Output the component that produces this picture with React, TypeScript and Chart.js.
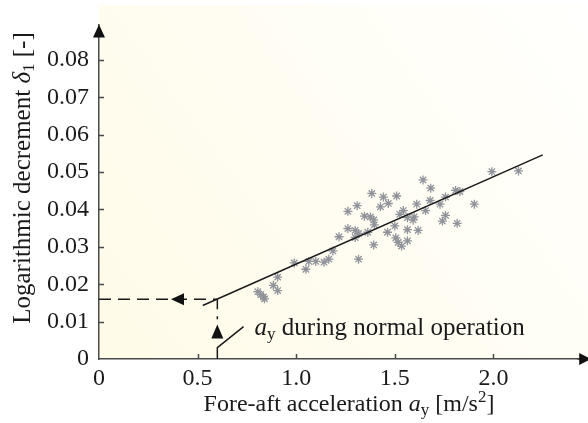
import React, { useEffect, useRef } from 'react';
import { Chart, registerables } from 'chart.js';

Chart.register(...registerables);

// Measured fore-aft acceleration a_y [m/s^2] and logarithmic decrement delta_1 [-]
const accel = [
  1.992, 2.127, 1.643, 1.682, 1.808, 1.830, 1.903, 1.757, 1.679, 1.729,
  1.611, 1.656, 1.757, 1.741, 1.816, 1.383, 1.442, 1.509, 1.467, 1.427,
  1.309, 1.262, 1.346, 1.376, 1.393, 1.396, 1.543, 1.525, 1.564, 1.598,
  1.593, 1.500, 1.463, 1.564, 1.618, 1.262, 1.299, 1.316, 1.363, 1.299,
  1.217, 1.505, 1.517, 1.534, 1.564, 1.393, 1.186, 1.165, 1.141, 1.099,
  1.064, 1.316, 0.990, 1.049, 0.906, 0.884, 0.906, 0.805, 0.834, 0.839,
  0.820,
];
const decrement = [
  0.0501, 0.0503, 0.0479, 0.0457, 0.0451, 0.0448, 0.0414, 0.0433, 0.0424, 0.0414,
  0.0414, 0.0397, 0.0384, 0.0369, 0.0363, 0.0443, 0.0433, 0.0436, 0.0416, 0.0407,
  0.0410, 0.0395, 0.0382, 0.0380, 0.0372, 0.0359, 0.0397, 0.0387, 0.0378, 0.0380,
  0.0372, 0.0356, 0.0339, 0.0346, 0.0344, 0.0349, 0.0344, 0.0336, 0.0339, 0.0325,
  0.0327, 0.0324, 0.0312, 0.0302, 0.0316, 0.0305, 0.0289, 0.0267, 0.0259, 0.0261,
  0.0261, 0.0267, 0.0257, 0.0240, 0.0219, 0.0197, 0.0183, 0.0180, 0.0166, 0.0161,
  0.0172,
];

// Linear fit
const fitAccel = [0.526, 2.25];
const fitDecrement = [0.0143, 0.0546];

// Normal operation read-off
const normalAccel = 0.6;
const normalDecrement = 0.016;
const dashedDownTo = 0.0106;
const leftArrowTipAccel = 0.365;
const upArrowTipDecrement = 0.0092;
const leaderAccel = [0.6, 0.6, 0.733];
const leaderDecrement = [0, 0.00306, 0.00867];

// Axes
const xMin = 0;
const xMax = 2.45;
const yMin = 0;
const yMax = 0.0895;
const xTicks = [0, 0.5, 1.0, 1.5, 2.0];
const xTickLabels = ['0', '0.5', '1.0', '1.5', '2.0'];
const yTicks = [0, 0.01, 0.02, 0.03, 0.04, 0.05, 0.06, 0.07, 0.08];
const yTickLabels = ['0', '0.01', '0.02', '0.03', '0.04', '0.05', '0.06', '0.07', '0.08'];

const annotationText = ' during normal operation';
const xTitleMain = 'Fore-aft acceleration ';
const yTitleMain = 'Logarithmic decrement ';

const SERIF = '"Liberation Serif", "DejaVu Serif", serif';
const INK = '#1a1a1a';
const AXIS = '#4a4a4a';
const FS = 24;
const FS_Y = 25;
const FS_NOTE = 25;
const SUB = 17;

type Part = { text: string; font: string; dy?: number };

function drawParts(ctx: CanvasRenderingContext2D, parts: Part[], x: number, y: number, align: 'left' | 'center') {
  let total = 0;
  const widths = parts.map((p) => {
    ctx.font = p.font;
    const w = ctx.measureText(p.text).width;
    total += w;
    return w;
  });
  let cx = align === 'center' ? x - total / 2 : x;
  ctx.textAlign = 'left';
  ctx.textBaseline = 'alphabetic';
  parts.forEach((p, i) => {
    ctx.font = p.font;
    ctx.fillText(p.text, cx, y + (p.dy || 0));
    cx += widths[i];
  });
}

function triangle(ctx: CanvasRenderingContext2D, pts: number[][]) {
  ctx.beginPath();
  ctx.moveTo(pts[0][0], pts[0][1]);
  ctx.lineTo(pts[1][0], pts[1][1]);
  ctx.lineTo(pts[2][0], pts[2][1]);
  ctx.closePath();
  ctx.fill();
}

const decorPlugin = {
  id: 'decor',
  beforeDraw(chart: any) {
    const { ctx, chartArea } = chart;
    const g = ctx.createLinearGradient(chartArea.left, chartArea.bottom, chart.width, 0);
    g.addColorStop(0, '#fffbe8');
    g.addColorStop(1, '#fffffd');
    ctx.save();
    ctx.fillStyle = g;
    ctx.fillRect(chartArea.left, 5, chart.width - chartArea.left, chartArea.bottom - 5);
    ctx.restore();
  },
  afterDraw(chart: any) {
    const { ctx, chartArea } = chart;
    const xs = chart.scales.x;
    const ys = chart.scales.y;
    ctx.save();
    // inward tick marks
    ctx.strokeStyle = AXIS;
    ctx.lineWidth = 1.5;
    ctx.beginPath();
    xTicks.forEach((v) => {
      if (v === 0) return;
      const px = Math.round(xs.getPixelForValue(v)) + 0.5;
      ctx.moveTo(px, chartArea.bottom);
      ctx.lineTo(px, chartArea.bottom - 5);
    });
    yTicks.forEach((v) => {
      if (v === 0) return;
      const py = Math.round(ys.getPixelForValue(v)) + 0.5;
      ctx.moveTo(chartArea.left, py);
      ctx.lineTo(chartArea.left + 5, py);
    });
    ctx.stroke();

    // axis arrowheads
    ctx.fillStyle = '#111';
    const top = chartArea.top;
    const left = chartArea.left;
    triangle(ctx, [[left, top], [left - 6, top + 13], [left + 6, top + 13]]);
    const bottom = chartArea.bottom;
    const r = chartArea.right;
    ctx.strokeStyle = AXIS;
    ctx.beginPath();
    ctx.moveTo(r - 5, bottom);
    ctx.lineTo(chart.width, bottom);
    ctx.stroke();
    triangle(ctx, [[r + 9, bottom], [r - 3, bottom - 6], [r - 3, bottom + 6]]);

    // read-off arrowheads
    const lx = xs.getPixelForValue(leftArrowTipAccel);
    const ly = ys.getPixelForValue(normalDecrement);
    triangle(ctx, [[lx, ly], [lx + 13, ly - 6], [lx + 13, ly + 6]]);
    const ux = xs.getPixelForValue(normalAccel);
    const uy = ys.getPixelForValue(upArrowTipDecrement);
    triangle(ctx, [[ux, uy], [ux - 6, uy + 14], [ux + 6, uy + 14]]);

    // annotation text
    ctx.fillStyle = INK;
    const ax = xs.getPixelForValue(leaderAccel[2]) + 11;
    const ay = ys.getPixelForValue(leaderDecrement[2]) + 8;
    drawParts(ctx, [
      { text: 'a', font: `italic ${FS_NOTE}px ${SERIF}` },
      { text: 'y', font: `${SUB}px ${SERIF}`, dy: 4 },
      { text: annotationText, font: `${FS_NOTE}px ${SERIF}` },
    ], ax, ay, 'left');

    // x title
    drawParts(ctx, [
      { text: xTitleMain, font: `${FS}px ${SERIF}` },
      { text: 'a', font: `italic ${FS}px ${SERIF}` },
      { text: 'y', font: `${SUB}px ${SERIF}`, dy: 4 },
      { text: ' [m/s', font: `${FS}px ${SERIF}` },
      { text: '2', font: `${SUB}px ${SERIF}`, dy: -9 },
      { text: ']', font: `${FS}px ${SERIF}` },
    ], 349, 411, 'center');

    // y title
    ctx.translate(30, 178);
    ctx.rotate(-Math.PI / 2);
    drawParts(ctx, [
      { text: yTitleMain, font: `${FS_Y}px ${SERIF}` },
      { text: 'δ', font: `italic ${FS_Y}px ${SERIF}` },
      { text: '1', font: `${SUB}px ${SERIF}`, dy: 4 },
      { text: ' [-]', font: `${FS_Y}px ${SERIF}` },
    ], 0, 0, 'center');
    ctx.restore();
  },
};

export default function App() {
  const ref = useRef<HTMLCanvasElement>(null);
  useEffect(() => {
    if (!ref.current) return;
    const points = accel.map((x, i) => ({ x, y: decrement[i] }));
    const fit = fitAccel.map((x, i) => ({ x, y: fitDecrement[i] }));
    const hDash = [{ x: xMin, y: normalDecrement }, { x: normalAccel, y: normalDecrement }];
    const vDash = [{ x: normalAccel, y: normalDecrement }, { x: normalAccel, y: dashedDownTo }];
    const leader = leaderAccel.map((x, i) => ({ x, y: leaderDecrement[i] }));
    const lineDs = (data: any[], dash: number[]) => ({
      type: 'line' as const,
      data,
      showLine: true,
      borderColor: INK,
      borderWidth: 1.5,
      borderDash: dash,
      pointRadius: 0,
      fill: false,
    });
    const chart = new Chart(ref.current, {
      type: 'scatter',
      data: {
        datasets: [
          lineDs(fit, []),
          lineDs(hDash, [12, 7]),
          lineDs(vDash, [10, 7]),
          lineDs(leader, []),
          {
            type: 'scatter',
            data: points,
            pointStyle: 'star',
            pointRadius: 4.5,
            pointBorderWidth: 1.3,
            borderColor: '#90939a',
            backgroundColor: '#90939a',
          } as any,
        ],
      },
      options: {
        animation: false,
        responsive: false,
        devicePixelRatio: 1,
        layout: { padding: { top: 8, right: 2, left: 0, bottom: 0 } },
        plugins: { legend: { display: false }, tooltip: { enabled: false } },
        scales: {
          x: {
            type: 'linear',
            min: xMin,
            max: xMax,
            afterBuildTicks: (s: any) => { s.ticks = xTicks.map((value) => ({ value })); },
            afterFit: (s: any) => { s.height = 64; },
            grid: { display: false, drawTicks: false },
            border: { display: true, color: AXIS, width: 1.5 },
            ticks: {
              padding: 5,
              color: INK,
              font: { family: SERIF, size: 24 },
              callback: (v: any) => xTickLabels[xTicks.indexOf(Number(v))] ?? '',
            },
          },
          y: {
            type: 'linear',
            min: yMin,
            max: yMax,
            afterBuildTicks: (s: any) => { s.ticks = yTicks.map((value) => ({ value })); },
            afterFit: (s: any) => { s.width = 99; },
            grid: { display: false, drawTicks: false },
            border: { display: true, color: AXIS, width: 1.5 },
            ticks: {
              padding: 10,
              color: INK,
              font: { family: SERIF, size: 24 },
              callback: (v: any) => {
                const i = yTicks.findIndex((t) => Math.abs(t - Number(v)) < 1e-9);
                return i >= 0 ? yTickLabels[i] : '';
              },
            },
          },
        },
      },
      plugins: [decorPlugin],
    });
    return () => chart.destroy();
  }, []);
  return (
    <div style={{ position: 'fixed', left: 0, top: 0, width: 588, height: 423, background: '#fff' }}>
      <canvas ref={ref} width={588} height={423} style={{ display: 'block' }} />
    </div>
  );
}
